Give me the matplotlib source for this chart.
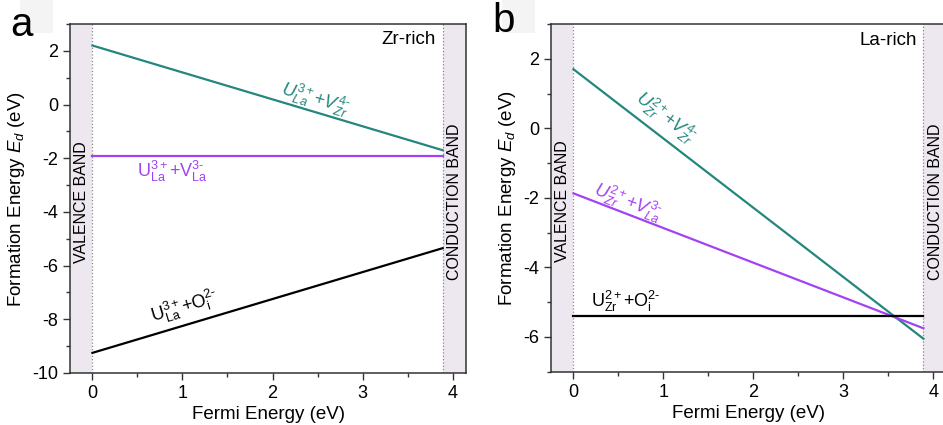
import numpy as np
import matplotlib
matplotlib.use('Agg')
import matplotlib.pyplot as plt
from matplotlib.ticker import MultipleLocator
from matplotlib.patches import Rectangle

plt.rcParams['font.family'] = ['Liberation Sans', 'DejaVu Sans']
plt.rcParams['mathtext.fontset'] = 'custom'
plt.rcParams['mathtext.rm'] = 'Liberation Sans'
plt.rcParams['mathtext.it'] = 'Liberation Sans:italic'
plt.rcParams['axes.unicode_minus'] = False

# Fermi level range (valence band max at 0, conduction band min at gap)
band_gap = 3.89
fermi = [0.0, band_gap]

# panel a: Zr-rich
zr_teal = [2.2, -1.7]
zr_purple = [-1.9, -1.9]
zr_black = [-9.25, -5.35]

# panel b: La-rich
la_teal = [1.7, -6.05]
la_purple = [-1.87, -5.75]
la_black = [-5.4, -5.4]

x_ticks = [0, 1, 2, 3, 4]
ya_ticks = [2, 0, -2, -4, -6, -8, -10]
yb_ticks = [2, 0, -2, -4, -6]

TEAL = '#23877d'
PURPLE = '#a342f2'
BAND = '#ede7ef'
HY = '\u2010'  # hyphen for charge superscripts


def slope_angle(y):
    return np.degrees(np.arctan2(y[1] - y[0], fermi[1] - fermi[0]))


def setup_axes(ax, ylim, yticks):
    ax.set_xlim(-0.25, 4.15)
    ax.set_ylim(*ylim)
    ax.axvspan(-0.25, 0, color=BAND, lw=0, zorder=0)
    ax.axvspan(band_gap, 4.15, color=BAND, lw=0, zorder=0)
    for xv in fermi:
        ax.axvline(xv, color='#8a8a8a', ls=':', lw=0.9, zorder=1)
    ax.set_xticks(x_ticks)
    ax.set_yticks(yticks)
    ax.xaxis.set_minor_locator(MultipleLocator(0.5))
    ax.yaxis.set_minor_locator(MultipleLocator(1))
    ax.tick_params(which='major', direction='out', length=5, width=1,
                   labelsize=13, color='#333333')
    ax.tick_params(which='minor', direction='out', length=3, width=1,
                   color='#333333')
    for s in ax.spines.values():
        s.set_color('#333333')
        s.set_linewidth(1.1)
    ax.set_xlabel('Fermi Energy (eV)', fontsize=13.5, labelpad=3)
    ax.set_ylabel(r'Formation Energy $E_d$ (eV)', fontsize=13.5, labelpad=4)
    ax.text(-0.125, 0.49, 'VALENCE BAND', rotation=90, fontsize=11.5,
            ha='center', va='center', transform=ax.get_xaxis_transform())
    ax.text(4.02, 0.49, 'CONDUCTION BAND', rotation=90, fontsize=11.5,
            ha='center', va='center', transform=ax.get_xaxis_transform())


fig = plt.figure(figsize=(9.43, 4.25), dpi=100)
ax1 = fig.add_axes([0.0742, 0.1224, 0.42, 0.821])
ax2 = fig.add_axes([0.5843, 0.1254, 0.4197, 0.818])

# ---- panel a
setup_axes(ax1, (-10, 3), ya_ticks)
ax1.plot(fermi, zr_teal, color=TEAL, lw=1.6, zorder=3)
ax1.plot(fermi, zr_purple, color=PURPLE, lw=1.6, zorder=3)
ax1.plot(fermi, zr_black, color='black', lw=1.6, zorder=3)
ax1.text(2.47, 0.21, rf'$U^{{3+}}_{{La}}$+$V^{{4{HY}}}_{{Zr}}$', color=TEAL,
         fontsize=13, ha='center', va='center', rotation=slope_angle(zr_teal),
         transform_rotates_text=True, rotation_mode='anchor')
ax1.text(0.89, -2.51, rf'$\mathrm{{U^{{3+}}_{{La}}}}$+$\mathrm{{V^{{3{HY}}}_{{La}}}}$',
         color=PURPLE, fontsize=13, ha='center', va='center')
ax1.text(1.03, -7.55, rf'$\mathrm{{U^{{3+}}_{{La}}}}$+$\mathrm{{O^{{2{HY}}}_{{i}}}}$',
         color='black', fontsize=13, ha='center', va='center',
         rotation=slope_angle(zr_black), transform_rotates_text=True,
         rotation_mode='anchor')
ax1.text(3.81, 2.41, 'Zr-rich', fontsize=13.5, ha='right', va='center')

# ---- panel b
setup_axes(ax2, (-7, 3), yb_ticks)
ax2.plot(fermi, la_teal, color=TEAL, lw=1.6, zorder=3)
ax2.plot(fermi, la_purple, color=PURPLE, lw=1.6, zorder=3)
ax2.plot(fermi, la_black, color='black', lw=1.6, zorder=3)
ax2.text(1.02, 0.30, rf'$U^{{2+}}_{{Zr}}$+$V^{{4{HY}}}_{{Zr}}$', color=TEAL,
         fontsize=13, ha='center', va='center', rotation=slope_angle(la_teal),
         transform_rotates_text=True, rotation_mode='anchor')
ax2.text(0.60, -2.12, rf'$U^{{2+}}_{{Zr}}$+$V^{{3{HY}}}_{{La}}$', color=PURPLE,
         fontsize=13, ha='center', va='center',
         rotation=slope_angle(la_purple), transform_rotates_text=True,
         rotation_mode='anchor')
ax2.text(0.58, -4.99, rf'$\mathrm{{U^{{2+}}_{{Zr}}}}$+$\mathrm{{O^{{2{HY}}}_{{i}}}}$',
         color='black', fontsize=13, ha='center', va='center')
ax2.text(3.82, 2.54, 'La-rich', fontsize=13.5, ha='right', va='center')

# panel letters with faint backing boxes
for x0 in (20 / 943, 502 / 943):
    fig.patches.append(Rectangle((x0, 1 - 33 / 425), 33 / 943, 33 / 425,
                                 transform=fig.transFigure, color='#f4f4f4',
                                 lw=0, zorder=0))
fig.text(10 / 943, 1 - 6 / 425, 'a', fontsize=29, ha='left', va='top')
fig.text(492 / 943, 1 - 2 / 425, 'b', fontsize=29, ha='left', va='top')

fig.savefig('out.png', dpi=100)
